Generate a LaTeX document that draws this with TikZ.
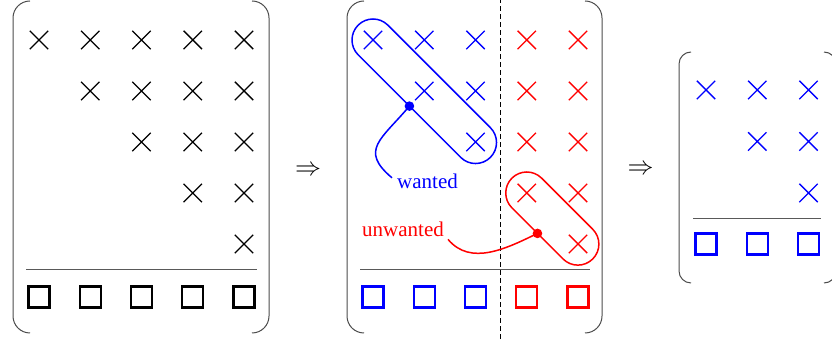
\documentclass[tikz,border=0pt]{standalone}
\usepackage{fontspec}
\setmainfont{Liberation Serif}
\usetikzlibrary{shapes.misc}
\tikzset{
 xmark/.style={cross out, draw, minimum size=17pt, inner sep=0pt, line width=1.4pt},
 sqmark/.style={rectangle, draw, minimum size=21pt, inner sep=0pt, line width=2.4pt},
 brk/.style={draw=black!70, line width=1pt},
 rulel/.style={draw=black!65, line width=1pt},
 lbl/.style={font=\fontsize{21}{25}\selectfont, inner sep=2pt},
 pill/.style={line width=1.5pt},
 impl/.style={scale=2.6, inner sep=0pt},
}
\newcommand{\parpair}[5]{% left x, right x, top, bottom, radius
 \draw[brk] ({#1+#5},#3) arc[start angle=90,end angle=180,radius=#5] -- (#1,{#4+#5}) arc[start angle=180,end angle=270,radius=#5];
 \draw[brk] ({#2-#5},#3) arc[start angle=90,end angle=0,radius=#5] -- (#2,{#4+#5}) arc[start angle=0,end angle=-90,radius=#5];
}
\begin{document}
\begin{tikzpicture}[x=1pt,y=1pt]
\clip (0,0) rectangle (832,339);
% ---------- left matrix ----------
\parpair{13}{269}{338}{6}{17}
\foreach \i in {0,...,4}{
  \foreach \j in {\i,...,4}{
    \node[xmark] (l-\i-\j) at ({39+51.25*\j},{299-51*\i}) {};
  }
}
\draw[rulel] (26,69) -- (257,69);
\foreach \j in {0,...,4}{
  \node[sqmark] (ls-\j) at ({39+51.25*\j},42) {};
}
\node[impl] (arr1) at (308,168) {$\Rightarrow$};
% ---------- middle matrix ----------
\parpair{347}{602}{338}{6}{17}
\draw[black, line width=0.9pt, dash pattern=on 5pt off 3pt] (500,0) -- (500,339);
\foreach \i in {0,...,4}{
  \foreach \j in {\i,...,4}{
    \ifnum\j<3 \def\mc{blue}\else\def\mc{red}\fi
    \node[xmark, draw=\mc] (m-\i-\j) at ({373+51.25*\j},{299-51*\i}) {};
  }
}
\draw[rulel] (360,69) -- (590,69);
\foreach \j in {0,...,4}{
  \ifnum\j<3 \def\mc{blue}\else\def\mc{red}\fi
  \node[sqmark, draw=\mc] (ms-\j) at ({373+51.25*\j},42) {};
}
% pills
\begin{scope}[shift={(m-0-0.center)}, rotate=-45]
  \draw[blue,pill] (0,21) -- (145,21) arc[start angle=90,end angle=-90,radius=21] -- (0,-21) arc[start angle=270,end angle=90,radius=21] -- cycle;
  \coordinate (bdot) at (72.5,-21);
\end{scope}
\begin{scope}[shift={(m-3-3.center)}, rotate=-45]
  \draw[red,pill] (0,21) -- (72.3,21) arc[start angle=90,end angle=-90,radius=21] -- (0,-21) arc[start angle=270,end angle=90,radius=21] -- cycle;
  \coordinate (rdot) at (36.15,-21);
\end{scope}
\fill[blue] (bdot) circle (4.8);
\fill[red] (rdot) circle (4.8);
\node[lbl, text=blue, anchor=base west] (wanted) at (395,150) {wanted};
\node[lbl, text=red, anchor=base west] (unwanted) at (360,102) {unwanted};
\draw[blue,pill] (bdot) to[out=230,in=140,looseness=1.5] ([shift={(-3,4)}]wanted.west);
\draw[red,pill] ([xshift=2]unwanted.south east) to[out=-50,in=206] (rdot);
\node[impl] (arr2) at (640.5,169) {$\Rightarrow$};
% ---------- right matrix ----------
\parpair{679}{836}{287}{56}{12}
\foreach \i in {0,...,2}{
  \foreach \j in {\i,...,2}{
    \node[xmark, draw=blue] (r-\i-\j) at ({706+51.25*\j},{249-51.5*\i}) {};
  }
}
\draw[rulel] (693,120) -- (821,120);
\foreach \j in {0,...,2}{
  \node[sqmark, draw=blue] (rs-\j) at ({706+51.25*\j},95) {};
}
\end{tikzpicture}
\end{document}
